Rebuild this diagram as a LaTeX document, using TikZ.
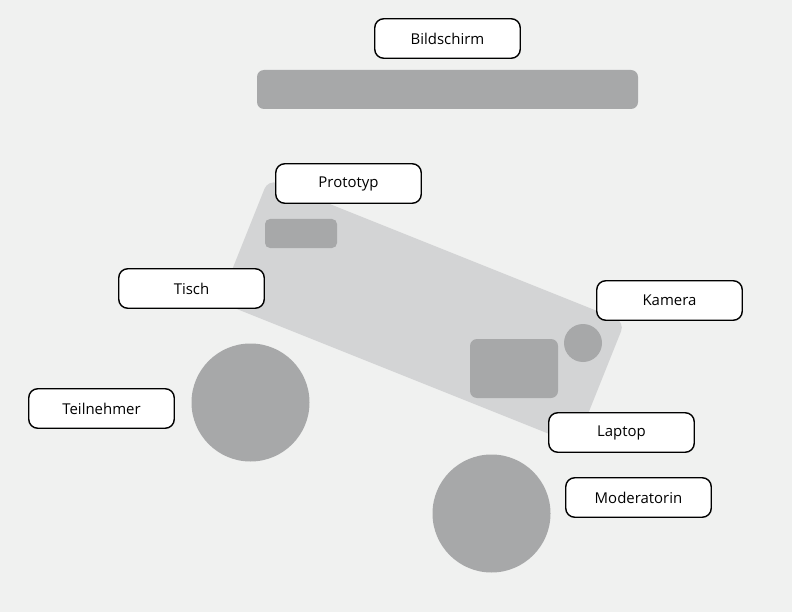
\documentclass[tikz,border=0pt]{standalone}
\usepackage{fontspec}
\setmainfont{Open Sans}
\usepackage{xcolor}
\usetikzlibrary{positioning}

\definecolor{bggrey}{HTML}{F0F1F0}
\definecolor{tablegrey}{HTML}{D3D4D5}
\definecolor{objgrey}{HTML}{A7A8A9}

\begin{document}
\begin{tikzpicture}[
        x=1bp, y=-1bp,
        label/.style={rectangle, draw=black, fill=white, line width=1.4bp, rounded corners=9bp,
            minimum width=145.5bp, minimum height=39.5bp, align=center, font=\fontsize{15}{17}\selectfont},
        thing/.style={fill=objgrey, draw=none, inner sep=0pt},
        person/.style={circle, fill=objgrey, draw=none, minimum size=118bp, inner sep=0pt}
    ]

    \useasboundingbox[fill=bggrey] (0,0) rectangle (792,612);

    % room objects
    \node (screen) [thing, rounded corners=7bp, minimum width=381bp, minimum height=39bp] at (447.5,89.5) {};
    \node (table) [fill=tablegrey, rounded corners=10bp, minimum width=384bp, minimum height=132bp,
        inner sep=0pt, rotate=-21.8] at (422,312) {};
    \node (proto) [thing, rounded corners=5bp, minimum width=72bp, minimum height=29bp] at (301,233.5) {};
    \node (laptop) [thing, rounded corners=7bp, minimum width=88bp, minimum height=59bp] at (514,368.5) {};
    \node (cam) [circle, thing, minimum size=38bp] at (583,343) {};
    \node (participant) [person] at (250.5,402.5) {};
    \node (moderator) [person] at (491.5,513.5) {};

    % labels
    \node (lscreen) [label] at (447.5,38.5) {Bildschirm};
    \node (lproto) [label] at (348.5,183.5) {Prototyp};
    \node (ltable) [label] at (191.5,288.5) {Tisch};
    \node (lcam) [label] at (669.5,300.5) {Kamera};
    \node (lpart) [label] at (101.5,408.5) {Teilnehmer};
    \node (llaptop) [label] at (621.5,432.5) {Laptop};
    \node (lmod) [label] at (638.5,497.5) {Moderatorin};

\end{tikzpicture}
\end{document}
